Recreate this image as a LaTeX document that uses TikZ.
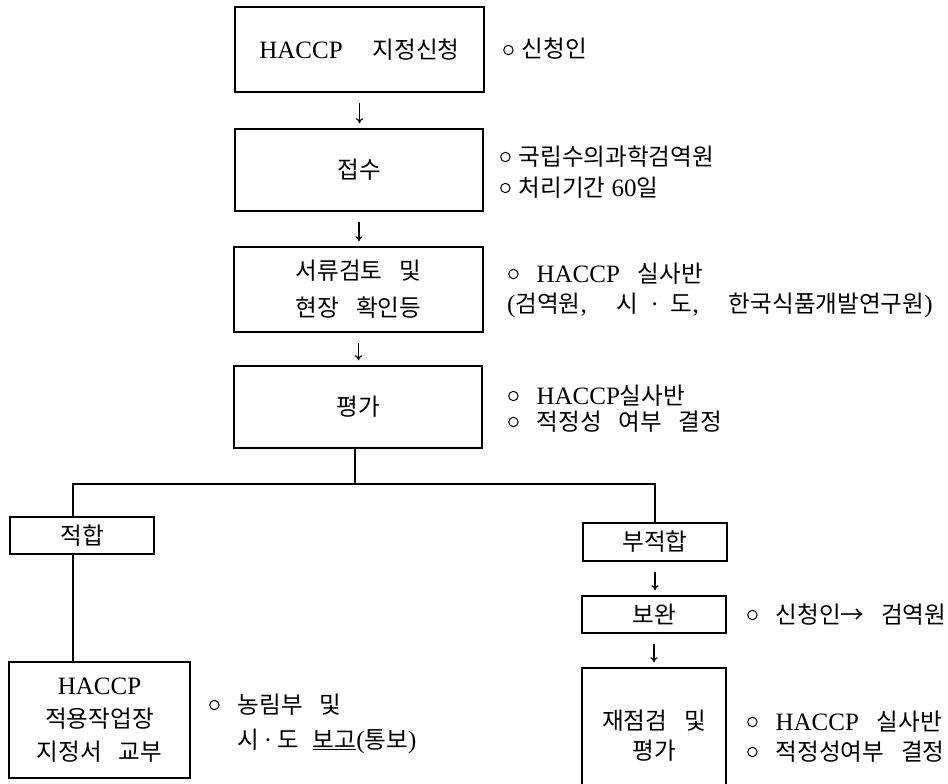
\documentclass[tikz,border=0pt]{standalone}
\usepackage{fontspec}
\setmainfont{Liberation Serif}
\newfontfamily\kr[Scale=0.944,WordSpace=3.2]{Noto Sans CJK KR}
\usetikzlibrary{arrows.meta}
\newcommand\K[1]{{\kr #1}}
\newcommand\ring{\tikz[baseline={(0pt,-8pt)}]\draw[line width=1pt] (0pt,0pt) circle (4.7pt);}
\begin{document}
\begin{tikzpicture}[x=1pt,y=-1pt,
  every node/.style={font=\fontsize{25}{33}\selectfont, inner sep=0pt},
  box/.style={draw, line width=1.5pt, align=center},
  ann/.style={anchor=base west},
  link/.style={line width=1.2pt},
  arr/.style={line width=1.2pt, -{To[length=5pt,width=7pt]}, shorten <=10pt, shorten >=5pt}]
\useasboundingbox (0,0) rectangle (948,784);
\clip (0,0) rectangle (948,784);
% main column
\node[box, minimum width=249, minimum height=85] (b1) at (359.5,49.5) {HACCP\hspace{30pt}\K{지정신청}};
\node[box, minimum width=248, minimum height=82] (b2) at (359,170) {\K{접수}};
\node[box, minimum width=249, minimum height=85] (b3) at (358.5,289.5) {\K{서류검토 및}\\[4pt]\K{현장 확인등}};
\node[box, minimum width=248, minimum height=82] (b4) at (358,407) {\K{평가}};
% branches
\node[box, minimum width=144, minimum height=37] (fit) at (82,535.5) {\K{적합}};
\node[box, minimum width=181, minimum height=116] (cert) at (99.5,720) {HACCP\\\K{적용작업장}\\\K{지정서 교부}};
\node[box, minimum width=144, minimum height=38] (unfit) at (655,542) {\K{부적합}};
\node[box, minimum width=144, minimum height=37] (supp) at (654,614.5) {\K{보완}};
\node[box, minimum width=144, minimum height=136] (re) at (654,736) {\K{재점검 및}\\[-3pt]\K{평가}};
% annotations
\node[ann] (a1) at (503,58) {\ring\hspace{8pt}\K{신청인}};
\node[ann] (a2a) at (500,165) {\ring\hspace{8pt}\K{국립수의과학검역원}};
\node[ann] (a2b) at (500,196) {\ring\hspace{8pt}\K{처리기간} 60\K{일}};
\node[ann] (a3a) at (508,282) {\ring\hspace{18pt}HACCP\hspace{18pt}\K{실사반}};
\node[ann] (a3b) at (507,312) {(\K{검역원},\hspace{30pt}\K{시}\hspace{12pt}·\hspace{12pt}\K{도},\hspace{30pt}\K{한국식품개발연구원})};
\node[ann] (a4a) at (508,404) {\ring\hspace{18pt}HACCP\K{실사반}};
\node[ann] (a4b) at (508,430) {\ring\hspace{18pt}\K{적정성 여부 결정}};
\node[ann] (a5a) at (209,713) {\ring\hspace{18pt}\K{농림부 및}};
\node[ann] (a5b) at (237,748) {\K{시}\hspace{5pt}·\hspace{5pt}\K{도}\hspace{14pt}\underline{\K{보고}}(\K{통보})};
\node[ann] (a6) at (747,623) {\ring\hspace{18pt}\K{신청인→ 검역원}};
\node[ann] (a7a) at (747,730) {\ring\hspace{18pt}HACCP\hspace{18pt}\K{실사반}};
\node[ann] (a7b) at (747,760) {\ring\hspace{18pt}\K{적정성여부 결정}};
% connectors
\draw[arr] (b1.south) -- (b1.south |- b2.north);
\draw[arr] (b2.south) -- (b2.south |- b3.north);
\draw[arr] (b3.south) -- (b3.south |- b4.north);
\coordinate (j) at (355,484);
\coordinate (jl) at (73,484);
\draw[link] (b4.south -| j) -- (j);
\draw[link] (fit.north -| jl) -- (jl) -- (unfit.north |- jl) -- (unfit.north);
\draw[link] (fit.south -| jl) -- (cert.north -| jl);
\draw[arr] (unfit.south) -- (unfit.south |- supp.north);
\draw[arr] (supp.south) -- (supp.south |- re.north);
\end{tikzpicture}
\end{document}
